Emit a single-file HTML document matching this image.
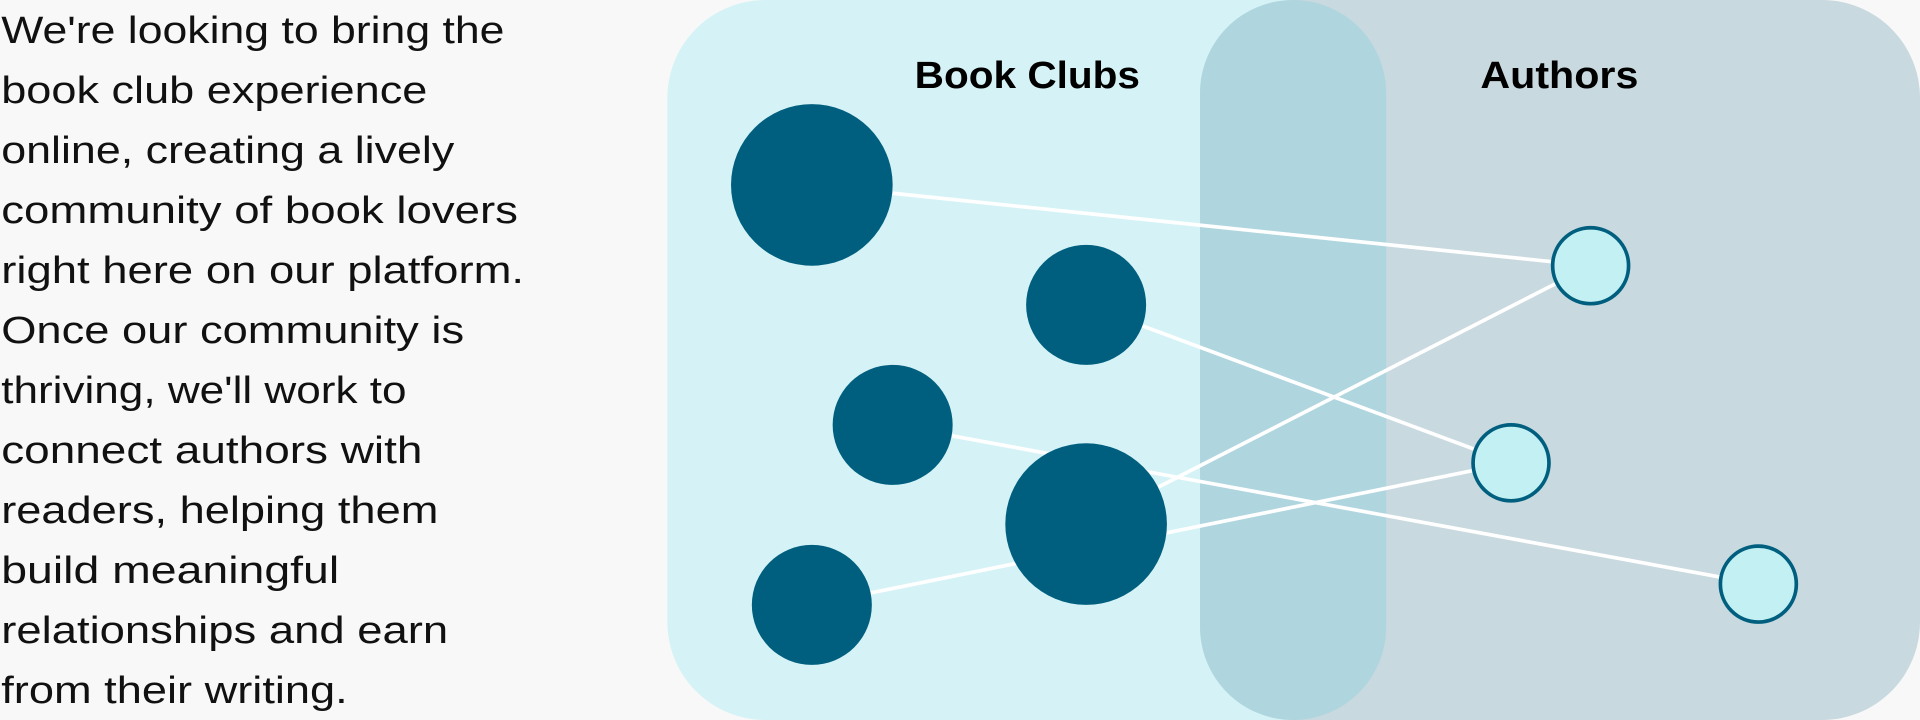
<!DOCTYPE html>
<html><head><style>
html,body{margin:0;padding:0;background:#f8f8f8;}
svg{display:block}
</style></head><body>
<svg width="1920" height="720" viewBox="0 0 1568 588" xmlns="http://www.w3.org/2000/svg">
<rect width="1568" height="588" fill="#f8f8f8"/>
<g font-family="Liberation Sans, sans-serif" font-size="31" fill="#111" lengthAdjust="spacingAndGlyphs">
<text x="1" y="35" textLength="411" lengthAdjust="spacingAndGlyphs">We're looking to bring the</text>
<text x="1" y="84" textLength="348" lengthAdjust="spacingAndGlyphs">book club experience</text>
<text x="1" y="133" textLength="370" lengthAdjust="spacingAndGlyphs">online, creating a lively</text>
<text x="1" y="182" textLength="422" lengthAdjust="spacingAndGlyphs">community of book lovers</text>
<text x="1" y="231" textLength="427" lengthAdjust="spacingAndGlyphs">right here on our platform.</text>
<text x="1" y="280" textLength="378" lengthAdjust="spacingAndGlyphs">Once our community is</text>
<text x="1" y="329" textLength="331" lengthAdjust="spacingAndGlyphs">thriving, we'll work to</text>
<text x="1" y="378" textLength="344" lengthAdjust="spacingAndGlyphs">connect authors with</text>
<text x="1" y="427" textLength="357" lengthAdjust="spacingAndGlyphs">readers, helping them</text>
<text x="1" y="476" textLength="276" lengthAdjust="spacingAndGlyphs">build meaningful</text>
<text x="1" y="525" textLength="365" lengthAdjust="spacingAndGlyphs">relationships and earn</text>
<text x="1" y="574" textLength="283" lengthAdjust="spacingAndGlyphs">from their writing.</text>
</g>
<rect x="545" y="0" width="587" height="588" rx="80" fill="#d5f3f6"/>
<rect x="980" y="0" width="588" height="588" rx="80" fill="#c8d9df"/>
<rect x="980" y="0" width="152" height="588" rx="76" fill="#afd5de"/>
<g font-family="Liberation Sans, sans-serif" font-size="31" font-weight="bold" fill="#000">
<text x="747" y="72" textLength="184" lengthAdjust="spacingAndGlyphs">Book Clubs</text>
<text x="1209" y="72" textLength="129" lengthAdjust="spacingAndGlyphs">Authors</text>
</g>
<g stroke="#fff" stroke-width="3">
<line x1="663" y1="151" x2="1299" y2="217"/>
<line x1="887" y1="249" x2="1234" y2="378"/>
<line x1="729" y1="347" x2="1436" y2="477"/>
<line x1="887" y1="428" x2="1299" y2="217"/>
<line x1="663" y1="494" x2="1234" y2="378"/>
</g>
<g fill="#005f7f">
<circle cx="663" cy="151" r="66"/>
<circle cx="887" cy="249" r="49"/>
<circle cx="729" cy="347" r="49"/>
<circle cx="887" cy="428" r="66"/>
<circle cx="663" cy="494" r="49"/>
</g>
<g fill="#c2f0f3" stroke="#005f7f" stroke-width="3">
<circle cx="1299" cy="217" r="31"/>
<circle cx="1234" cy="378" r="31"/>
<circle cx="1436" cy="477" r="31"/>
</g>
</svg>
</body></html>
